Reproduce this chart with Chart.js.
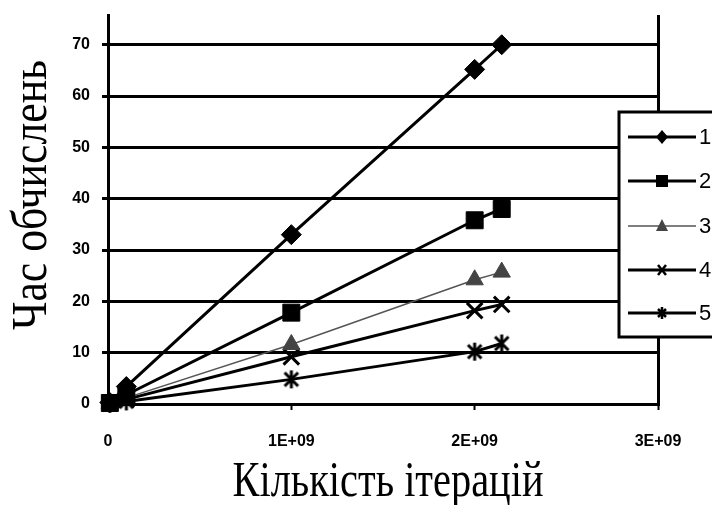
<!DOCTYPE html>
<html>
<head>
<meta charset="utf-8">
<script src="https://cdn.jsdelivr.net/npm/chart.js@4/dist/chart.umd.min.js"></script>
<style>
html,body{margin:0;padding:0;background:#fff;}
#wrap{width:712px;height:505px;position:relative;}
</style>
</head>
<body>
<div id="wrap"><canvas id="c" width="712" height="505"></canvas></div>
<script>
// ---- data ----
const iterations = [1e7, 1e8, 1e9, 2e9, 2147483648];
const series1 = [0.3, 3.4, 33, 65.2, 70];
const series2 = [0.2, 1.8, 17.8, 35.8, 38];
const series3 = [0.1, 1.2, 11.6, 24.2, 25.7];
const series4 = [0.1, 0.9, 9.2, 18.2, 19.4];
const series5 = [0.05, 0.5, 4.8, 10.2, 11.8];
const seriesNames = ['1', '2', '3', '4', '5'];
const xTickValues = [0, 1e9, 2e9, 3e9];
const xTickLabels = ['0', '1E+09', '2E+09', '3E+09'];
const yTickValues = [0, 10, 20, 30, 40, 50, 60, 70];
const xTitle = 'Кількість ітерацій';
const yTitle = 'Час обчислень';

// custom asterisk marker (× plus vertical bar)
function starCanvas(r, lw) {
  const s = Math.ceil(r * 2 + lw * 2);
  const cv = document.createElement('canvas');
  cv.width = s; cv.height = s;
  const g = cv.getContext('2d');
  const c = s / 2;
  g.strokeStyle = '#000'; g.lineWidth = lw; g.lineCap = 'butt';
  const d = r * 0.75;
  g.beginPath();
  g.moveTo(c - d, c - d); g.lineTo(c + d, c + d);
  g.moveTo(c + d, c - d); g.lineTo(c - d, c + d);
  g.moveTo(c, c - r); g.lineTo(c, c + r);
  g.stroke();
  return cv;
}
const starBig = starCanvas(9, 3);

function mk(arr) { return arr.map((v, i) => ({x: iterations[i], y: v})); }

const styles = [
  {color:'#000', lw:3, ps:'rectRot', r:10},
  {color:'#000', lw:3, ps:'rect', r:12},
  {color:'#555', lw:1.5, ps:'triangle', r:10, fill:'#444'},
  {color:'#000', lw:3, ps:'crossRot', r:11},
  {color:'#000', lw:3, ps:starBig, r:9}
];
const allSeries = [series1, series2, series3, series4, series5];

const datasets = allSeries.map((s, i) => {
  const st = styles[i];
  return {
    label: seriesNames[i],
    data: mk(s),
    borderColor: st.color,
    borderWidth: st.lw,
    pointStyle: st.ps,
    pointRadius: st.r,
    pointHoverRadius: st.r,
    pointBackgroundColor: st.fill || st.color,
    pointBorderColor: st.fill || st.color,
    pointBorderWidth: (i === 3) ? 3 : 1,
    clip: false,
    tension: 0
  };
});

// legend + titles plugin
const deco = {
  id: 'deco',
  afterDraw(chart) {
    const ctx = chart.ctx;
    ctx.save();
    // legend box
    ctx.fillStyle = '#fff';
    ctx.fillRect(619, 112, 110, 225);
    ctx.strokeStyle = '#000';
    ctx.lineWidth = 3;
    ctx.strokeRect(619, 112, 110, 225);
    const ys = [137, 181, 226, 270, 313];
    const mx = 662;
    ys.forEach((y, i) => {
      const st = styles[i];
      ctx.strokeStyle = st.color;
      ctx.lineWidth = st.lw;
      ctx.beginPath(); ctx.moveTo(628, y); ctx.lineTo(696, y); ctx.stroke();
      ctx.fillStyle = st.fill || st.color;
      ctx.strokeStyle = '#000';
      ctx.beginPath();
      if (i === 0) {
        ctx.moveTo(mx, y - 7); ctx.lineTo(mx + 6, y); ctx.lineTo(mx, y + 7); ctx.lineTo(mx - 6, y); ctx.closePath(); ctx.fill();
      } else if (i === 1) {
        ctx.fillRect(mx - 6, y - 6, 12, 12);
      } else if (i === 2) {
        ctx.moveTo(mx, y - 7); ctx.lineTo(mx + 6, y + 5); ctx.lineTo(mx - 6, y + 5); ctx.closePath(); ctx.fill();
      } else if (i === 3) {
        ctx.lineWidth = 2.5;
        ctx.moveTo(mx - 4, y - 5); ctx.lineTo(mx + 4, y + 5);
        ctx.moveTo(mx + 4, y - 5); ctx.lineTo(mx - 4, y + 5); ctx.stroke();
      } else {
        ctx.lineWidth = 2.5;
        ctx.moveTo(mx - 4, y - 4); ctx.lineTo(mx + 4, y + 4);
        ctx.moveTo(mx + 4, y - 4); ctx.lineTo(mx - 4, y + 4);
        ctx.moveTo(mx, y - 6); ctx.lineTo(mx, y + 6); ctx.stroke();
      }
      ctx.fillStyle = '#000';
      ctx.font = '22px "Liberation Sans", Arial, sans-serif';
      ctx.textAlign = 'left';
      ctx.textBaseline = 'middle';
      ctx.fillText(seriesNames[i], 699, y + 1);
    });
    // x title
    ctx.fillStyle = '#000';
    ctx.font = '50px "Liberation Serif", "Times New Roman", serif';
    ctx.textAlign = 'center';
    ctx.textBaseline = 'alphabetic';
    let w = ctx.measureText(xTitle).width;
    ctx.save();
    ctx.translate(388, 496);
    ctx.scale(311 / w, 1);
    ctx.fillText(xTitle, 0, 0);
    ctx.restore();
    // y title
    ctx.font = '50px "Liberation Serif", "Times New Roman", serif';
    w = ctx.measureText(yTitle).width;
    ctx.save();
    ctx.translate(46, 195);
    ctx.rotate(-Math.PI / 2);
    ctx.scale(270 / w, 1);
    ctx.fillText(yTitle, 0, 0);
    ctx.restore();
    ctx.restore();
  }
};

new Chart(document.getElementById('c'), {
  type: 'line',
  data: { datasets },
  options: {
    responsive: false,
    animation: false,
    events: [],
    layout: { padding: { left: 0, top: 15, right: 54, bottom: 0 } },
    plugins: { legend: { display: false }, tooltip: { enabled: false } },
    scales: {
      x: {
        type: 'linear',
        min: 0, max: 3e9,
        afterBuildTicks(scale) { scale.ticks = xTickValues.map(v => ({value: v})); },
        afterFit(scale) { scale.height = 101; scale.paddingLeft = 0; scale.paddingRight = 0; },
        ticks: {
          callback: (v) => { const k = xTickValues.indexOf(v); return k >= 0 ? xTickLabels[k] : ''; },
          color: '#000',
          font: { family: '"Liberation Sans", Arial, sans-serif', size: 16, weight: 'bold' },
          padding: 22,
          maxRotation: 0,
          autoSkip: false
        },
        grid: {
          color: (c) => (c.tick && c.tick.value === 3e9) ? '#000' : 'rgba(0,0,0,0)',
          tickColor: '#000',
          lineWidth: 3,
          tickLength: 6,
          tickWidth: 2
        },
        border: { display: true, color: '#000', width: 3 }
      },
      y: {
        type: 'linear',
        min: 0, max: 75.8,
        afterBuildTicks(scale) { scale.ticks = yTickValues.map(v => ({value: v})); },
        afterFit(scale) { scale.width = 108; scale.paddingTop = 0; scale.paddingBottom = 0; },
        ticks: {
          color: '#000',
          font: { family: '"Liberation Sans", Arial, sans-serif', size: 16, weight: 'bold' },
          padding: 12
        },
        grid: {
          color: '#000',
          lineWidth: 3,
          tickLength: 6,
          tickColor: '#000'
        },
        border: { display: true, color: '#000', width: 3 }
      }
    }
  },
  plugins: [deco]
});
</script>
</body>
</html>
